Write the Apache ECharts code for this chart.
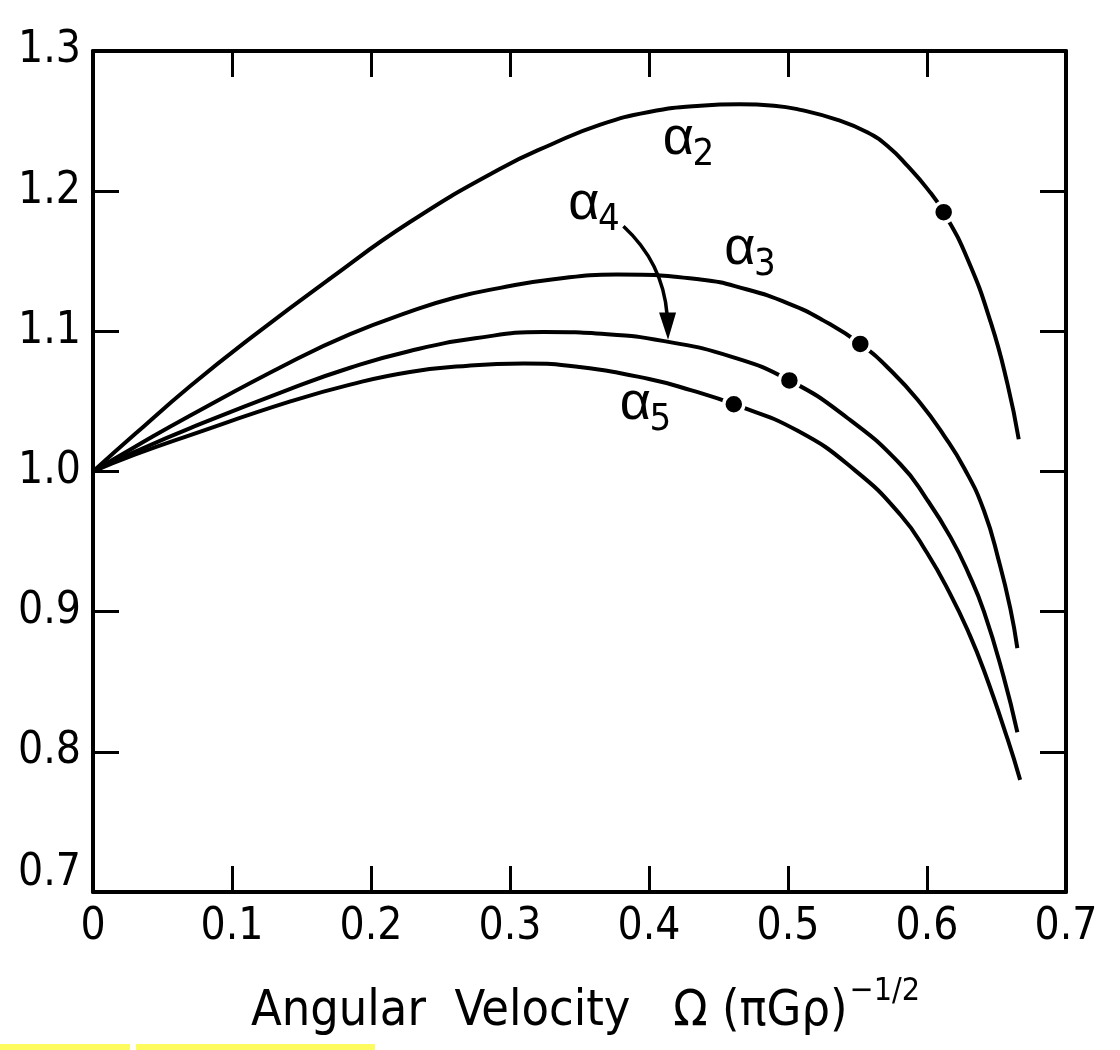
<!DOCTYPE html>
<html><head><meta charset="utf-8">
<script src="https://cdn.jsdelivr.net/npm/echarts@6/dist/echarts.min.js"></script>
<style>html,body{margin:0;padding:0;background:#fff}#c{width:1120px;height:1050px}</style>
</head><body><div id="c"></div>
<script>
// ---- data ----
const xTickLabels = ['0','0.1','0.2','0.3','0.4','0.5','0.6','0.7'];
const yTickLabels = ['0.7','0.8','0.9','1.0','1.1','1.2','1.3'];

const omega2 = [0, 0.03, 0.07, 0.113, 0.171, 0.228, 0.293, 0.33, 0.365, 0.40, 0.437, 0.465, 0.49, 0.509, 0.535, 0.557, 0.573, 0.586, 0.60, 0.612, 0.629, 0.646, 0.658, 0.666];
const alpha2 = [1.000, 1.0265, 1.061, 1.095, 1.138, 1.178, 1.216, 1.2335, 1.2475, 1.2565, 1.261, 1.262, 1.261, 1.258, 1.251, 1.242, 1.231, 1.218, 1.202, 1.185, 1.152, 1.106, 1.062, 1.023];

const omega3 = [0, 0.03, 0.07, 0.142, 0.185, 0.228, 0.26, 0.293, 0.33, 0.377, 0.437, 0.47, 0.50, 0.525, 0.552, 0.575, 0.595, 0.612, 0.627, 0.641, 0.652, 0.66, 0.665];
const alpha3 = [1.000, 1.0175, 1.040, 1.078, 1.098, 1.114, 1.124, 1.131, 1.137, 1.1405, 1.137, 1.130, 1.120, 1.108, 1.091, 1.071, 1.049, 1.026, 1.002, 0.972, 0.935, 0.902, 0.874];

const omega4 = [0, 0.03, 0.07, 0.142, 0.185, 0.228, 0.275, 0.324, 0.37, 0.411, 0.459, 0.501, 0.543, 0.581, 0.60, 0.617, 0.63, 0.641, 0.655, 0.665];
const alpha4 = [1.000, 1.014, 1.031, 1.059, 1.074, 1.086, 1.095, 1.0995, 1.098, 1.093, 1.082, 1.065, 1.038, 1.005, 0.980, 0.953, 0.927, 0.900, 0.854, 0.814];

const omega5 = [0, 0.03, 0.07, 0.142, 0.185, 0.228, 0.27, 0.31, 0.35, 0.40, 0.43, 0.461, 0.507, 0.548, 0.581, 0.60, 0.617, 0.63, 0.641, 0.658, 0.667];
const alpha5 = [1.000, 1.012, 1.026, 1.050, 1.062, 1.071, 1.0755, 1.077, 1.0745, 1.066, 1.058, 1.048, 1.029, 1.001, 0.969, 0.942, 0.912, 0.885, 0.858, 0.809, 0.780];

// marked points (filled dots)
const dotOmega = [0.612, 0.552, 0.501, 0.461];
const dotAlpha = [1.185, 1.091, 1.065, 1.048];

// curve labels: subscript and position of the α glyph (data units)
const labelNames = ['2', '3', '4', '5'];
const labelOmega = [0.4212, 0.4654, 0.3531, 0.3902];
const labelAlpha = [1.2372, 1.1587, 1.1908, 1.0482];

// ---- chart ----
const FONT = "'Liberation Sans Narrow','DejaVu Sans Condensed','Liberation Sans',sans-serif";
const zip = (a, b) => a.map((v, i) => [v, b[i]]);
const lineSeries = (xs, ys) => ({
  type: 'line', data: zip(xs, ys), smooth: 0.5,
  showSymbol: false, symbol: 'none', silent: true,
  lineStyle: { color: '#000', width: 4 }, z: 2
});

const chart = echarts.init(document.getElementById('c'), null, { renderer: 'canvas' });
const axisCommon = {
  axisLine: { show: true, onZero: false, lineStyle: { color: '#000', width: 4 } },
  axisTick: { show: true, inside: true, length: 26, lineStyle: { color: '#000', width: 3 } },
  splitLine: { show: false }
};
const option = {
  animation: false,
  backgroundColor: '#fff',
  grid: { left: 93, right: 54, top: 51, bottom: 158 },
  xAxis: [
    Object.assign({
      type: 'value', min: 0, max: 0.7, interval: 0.1, position: 'bottom',
      axisLabel: {
        margin: 14, color: '#000', fontSize: 44, fontFamily: FONT,
        formatter: v => xTickLabels[Math.round(v * 10)]
      }
    }, axisCommon),
    Object.assign({
      type: 'value', min: 0, max: 0.7, interval: 0.1, position: 'top',
      axisLabel: { show: false }
    }, axisCommon)
  ],
  yAxis: [
    Object.assign({
      type: 'value', min: 0.7, max: 1.3, interval: 0.1, position: 'left',
      axisLabel: {
        margin: 12, color: '#000', fontSize: 44, fontFamily: FONT,
        formatter: v => {
          const s = yTickLabels[Math.round((v - 0.7) * 10)];
          return s === '0.7' ? '{r|' + s + '}' : s;
        },
        rich: { r: { fontSize: 44, fontFamily: FONT, color: '#000', padding: [0, 0, 36, 0] } }
      }
    }, axisCommon),
    Object.assign({
      type: 'value', min: 0.7, max: 1.3, interval: 0.1, position: 'right',
      axisLabel: { show: false }
    }, axisCommon)
  ],
  series: [
    lineSeries(omega2, alpha2),
    lineSeries(omega3, alpha3),
    lineSeries(omega4, alpha4),
    lineSeries(omega5, alpha5),
    {
      type: 'scatter', data: zip(dotOmega, dotAlpha), symbol: 'circle', symbolSize: 20,
      itemStyle: { color: '#000', borderColor: '#fff', borderWidth: 3.5, opacity: 1 },
      silent: true, z: 5
    }
  ]
};
chart.setOption(option);

// annotations positioned from data units
const P = (x, y) => chart.convertToPixel({ xAxisIndex: 0, yAxisIndex: 0 }, [x, y]);
const aStart = P(0.3816, 1.175), aCtrl = P(0.410, 1.149), aEnd = P(0.4130, 1.112), aTip = P(0.4137, 1.094);
const titleX = (P(0, 1)[0] + P(0.7, 1)[0]) / 2;

const labelGraphics = [];
labelNames.forEach((n, i) => {
  const p = P(labelOmega[i], labelAlpha[i]);
  labelGraphics.push({ type: 'text', silent: true, z: 10, x: p[0], y: p[1],
    style: { text: 'α', fontSize: 54, fontFamily: "'Liberation Sans','DejaVu Sans',sans-serif",
      fill: '#000', align: 'center', verticalAlign: 'middle' } });
  labelGraphics.push({ type: 'text', silent: true, z: 10, x: p[0] + 25, y: p[1] + 16,
    style: { text: n, fontSize: 38, fontFamily: FONT,
      fill: '#000', align: 'center', verticalAlign: 'middle' } });
});

chart.setOption({
  graphic: labelGraphics.concat([
    { type: 'bezierCurve', silent: true, z: 10,
      shape: { x1: aStart[0], y1: aStart[1], cpx1: aCtrl[0], cpy1: aCtrl[1], x2: aEnd[0], y2: aEnd[1] },
      style: { stroke: '#000', lineWidth: 3.5, fill: null } },
    { type: 'polygon', silent: true, z: 10,
      shape: { points: [[aEnd[0] - 8, aEnd[1] - 2], [aEnd[0] + 9, aEnd[1] - 2], [aTip[0], aTip[1]]] },
      style: { fill: '#000' } },
    { type: 'text', silent: true, z: 10, x: titleX + 6, y: 1012,
      style: {
        text: '{t|Angular  Velocity   Ω (πGρ)}{s|−1/2}',
        align: 'center', verticalAlign: 'middle',
        rich: {
          t: { fontSize: 50, fontFamily: FONT, fill: '#000' },
          s: { fontSize: 32, fontFamily: FONT, fill: '#000', padding: [0, 0, 40, 2] }
        }
      } },
    { type: 'rect', silent: true, shape: { x: 0, y: 1044, width: 130, height: 6 }, style: { fill: '#fdfb5e' } },
    { type: 'rect', silent: true, shape: { x: 136, y: 1044, width: 239, height: 6 }, style: { fill: '#fdfb5e' } }
  ])
});
</script>
</body></html>
